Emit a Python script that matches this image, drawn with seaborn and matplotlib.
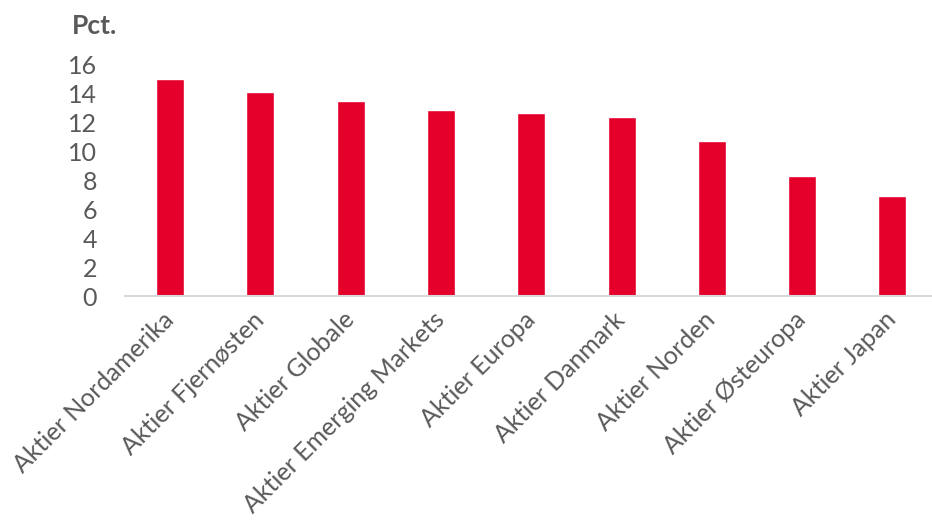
import matplotlib
matplotlib.use('Agg')
import matplotlib.pyplot as plt
import seaborn as sns
import pandas as pd

# data
categories = ['Aktier Nordamerika', 'Aktier Fjernøsten', 'Aktier Globale',
              'Aktier Emerging Markets', 'Aktier Europa', 'Aktier Danmark',
              'Aktier Norden', 'Aktier Østeuropa', 'Aktier Japan']
values = [15.0, 14.05, 13.45, 12.85, 12.65, 12.35, 10.7, 8.3, 6.9]
yticks = [0, 2, 4, 6, 8, 10, 12, 14, 16]

df = pd.DataFrame({'kategori': categories, 'pct': values})

sns.set_style('white')
plt.rcParams['font.family'] = ['Lato', 'DejaVu Sans']
grey = '#595959'

fig = plt.figure(figsize=(9.32, 5.21), dpi=100)
ax = fig.add_axes([0.134, 0.431, 0.872, 0.446])

sns.barplot(data=df, x='kategori', y='pct', color='#E4002B', width=0.31,
            saturation=1, ax=ax)

ax.set_ylim(0, 16)
ax.set_xlim(-0.5, len(categories) - 0.5)
ax.set_yticks(yticks)
ax.set_yticklabels([str(t) for t in yticks], fontsize=18, color=grey)
ax.set_xticks(range(len(categories)))
ax.set_xticklabels(categories, rotation=45, ha='right', va='center',
                   rotation_mode='anchor', fontsize=18, color=grey)
ax.tick_params(axis='both', length=0)
ax.tick_params(axis='x', pad=14)
ax.tick_params(axis='y', pad=20)
ax.set_xlabel('')
ax.set_ylabel('')

for side in ['left', 'right', 'top']:
    ax.spines[side].set_visible(False)
ax.spines['bottom'].set_color('#d9d9d9')
ax.spines['bottom'].set_linewidth(1.5)

fig.text(0.077, 0.95, 'Pct.', fontsize=19, fontweight='bold', color=grey,
         va='center', ha='left')

fig.savefig('out.png', dpi=100)
